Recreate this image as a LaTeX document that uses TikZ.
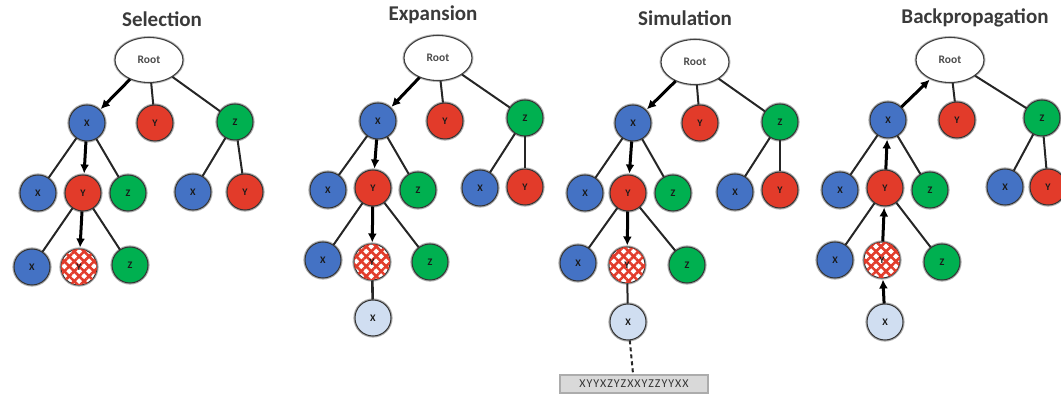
\documentclass[tikz,border=0pt]{standalone}
\usepackage{fontspec}
\setmainfont{Carlito}
\usetikzlibrary{arrows.meta,patterns.meta,shapes.geometric}

\definecolor{nblue}{HTML}{4472C4}
\definecolor{nred}{HTML}{E23B2A}
\definecolor{ngreen}{HTML}{00B050}
\definecolor{nlight}{HTML}{D0DEF1}
\definecolor{ttl}{HTML}{3A3A3A}

\tikzset{
  state/.style={circle, minimum size=36pt, inner sep=0pt,
    draw=black!80, line width=1pt,
    preaction={draw=gray!65, line width=3.2pt},
    font=\fontsize{10}{11}\selectfont\bfseries, text=black!90},
  bnode/.style={state, fill=nblue},
  rnode/.style={state, fill=nred},
  gnode/.style={state, fill=ngreen},
  lnode/.style={state, fill=nlight},
  hnode/.style={state, fill=white,
    postaction={pattern={Lines[angle=45,distance=7pt,line width=2.6pt]}, pattern color=nred},
    postaction={pattern={Lines[angle=-45,distance=7pt,line width=2.6pt]}, pattern color=nred}},
  rootnode/.style={ellipse, minimum width=68pt, minimum height=45pt, inner sep=0pt,
    draw=black!75, line width=1.1pt, preaction={draw=gray!55, line width=3pt},
    fill=white, font=\fontsize{11.5}{12}\selectfont\bfseries, text=black!70},
  title/.style={font=\fontsize{21}{24}\selectfont\bfseries, text=ttl},
  edge/.style={draw=black!85, line width=2pt},
  walk/.style={draw=black, line width=3pt,
    -{Latex[length=9pt,width=9pt]}, shorten >=1pt},
  seq/.style={draw=gray!65, line width=2.2pt, fill=gray!30, minimum width=148pt,
    minimum height=18pt, inner sep=0pt,
    font=\fontsize{12}{12}\selectfont\addfontfeature{LetterSpace=8}, text=black!80},
}

\begin{document}
\begin{tikzpicture}[x=1pt,y=-1pt]
\useasboundingbox (0,0) rectangle (1061,395);

% ---------- Selection ----------
\node[title] (ta) at (162,19) {Selection};
\node[rootnode] (ar) at (149,60) {Root};
\node[bnode] (ax1) at (87,123) {X};
\node[rnode] (ay1) at (155,123) {Y};
\node[gnode] (az1) at (235,122) {Z};
\node[bnode] (ax2) at (38,193) {X};
\node[rnode] (ay2) at (83,193) {Y};
\node[gnode] (az2) at (128,193) {Z};
\node[bnode] (azx) at (193,192) {X};
\node[rnode] (azy) at (245,192) {Y};
\node[bnode] (ax3) at (32,267) {X};
\node[hnode] (ah) at (79,267) {Y};
\node[gnode] (az3) at (130,265) {Z};
\draw[walk] (ar) -- (ax1);
\draw[edge] (ar) -- (ay1);
\draw[edge] (ar) -- (az1);
\draw[edge] (ax1) -- (ax2);
\draw[walk] (ax1) -- (ay2);
\draw[edge] (ax1) -- (az2);
\draw[edge] (az1) -- (azx);
\draw[edge] (az1) -- (azy);
\draw[edge] (ay2) -- (ax3);
\draw[walk] (ay2) -- (ah);
\draw[edge] (ay2) -- (az3);

% ---------- Expansion ----------
\node[title] (tb) at (433,15) {Expansion};
\node[rootnode] (br) at (438,58) {Root};
\node[bnode] (bx1) at (378,121) {X};
\node[rnode] (by1) at (445,121) {Y};
\node[gnode] (bz1) at (525,118) {Z};
\node[bnode] (bx2) at (328,190) {X};
\node[rnode] (by2) at (373,188) {Y};
\node[gnode] (bz2) at (418,190) {Z};
\node[bnode] (bzx) at (480,188) {X};
\node[rnode] (bzy) at (525,187) {Y};
\node[bnode] (bx3) at (323,260) {X};
\node[hnode] (bh) at (372,262) {Y};
\node[gnode] (bz3) at (430,262) {Z};
\node[lnode] (bl) at (373,318) {X};
\draw[walk] (br) -- (bx1);
\draw[edge] (br) -- (by1);
\draw[edge] (br) -- (bz1);
\draw[edge] (bx1) -- (bx2);
\draw[walk] (bx1) -- (by2);
\draw[edge] (bx1) -- (bz2);
\draw[edge] (bz1) -- (bzx);
\draw[edge] (bz1) -- (bzy);
\draw[edge] (by2) -- (bx3);
\draw[walk] (by2) -- (bh);
\draw[edge] (by2) -- (bz3);
\draw[edge, line width=2.6pt] (bh) -- (bl);

% ---------- Simulation ----------
\node[title] (tc) at (685,18) {Simulation};
\node[rootnode] (cr) at (695,62) {Root};
\node[bnode] (cx1) at (633,123) {X};
\node[rnode] (cy1) at (700,123) {Y};
\node[gnode] (cz1) at (780,122) {Z};
\node[bnode] (cx2) at (585,193) {X};
\node[rnode] (cy2) at (628,193) {Y};
\node[gnode] (cz2) at (673,193) {Z};
\node[bnode] (czx) at (735,192) {X};
\node[rnode] (czy) at (780,190) {Y};
\node[bnode] (cx3) at (578,263) {X};
\node[hnode] (ch) at (627,265) {Y};
\node[gnode] (cz3) at (687,265) {Z};
\node[lnode] (cl) at (628,322) {X};
\node[seq] (cs) at (634,384) {XYYXZYZXXYZZYYXX};
\draw[walk] (cr) -- (cx1);
\draw[edge] (cr) -- (cy1);
\draw[edge] (cr) -- (cz1);
\draw[edge] (cx1) -- (cx2);
\draw[walk] (cx1) -- (cy2);
\draw[edge] (cx1) -- (cz2);
\draw[edge] (cz1) -- (czx);
\draw[edge] (cz1) -- (czy);
\draw[edge] (cy2) -- (cx3);
\draw[walk] (cy2) -- (ch);
\draw[edge] (cy2) -- (cz3);
\draw[edge] (ch) -- (cl);
\draw[edge, dashed, dash pattern=on 4pt off 3pt] (cl) -- (cs);

% ---------- Backpropagation ----------
\node[title] (td) at (975,18) {Backpropagation};
\node[rootnode] (dr) at (950,60) {Root};
\node[bnode] (dx1) at (888,120) {X};
\node[rnode] (dy1) at (957,120) {Y};
\node[gnode] (dz1) at (1042,118) {Z};
\node[bnode] (dx2) at (840,190) {X};
\node[rnode] (dy2) at (885,188) {Y};
\node[gnode] (dz2) at (930,190) {Z};
\node[bnode] (dzx) at (1005,187) {X};
\node[rnode] (dzy) at (1048,187) {Y};
\node[bnode] (dx3) at (835,260) {X};
\node[hnode] (dh) at (882,260) {Y};
\node[gnode] (dz3) at (942,262) {Z};
\node[lnode] (dl) at (885,322) {X};
\draw[walk] (dx1) -- (dr);
\draw[edge] (dr) -- (dy1);
\draw[edge] (dr) -- (dz1);
\draw[edge] (dx1) -- (dx2);
\draw[walk] (dy2) -- (dx1);
\draw[edge] (dx1) -- (dz2);
\draw[edge] (dz1) -- (dzx);
\draw[edge] (dz1) -- (dzy);
\draw[edge] (dy2) -- (dx3);
\draw[walk] (dh) -- (dy2);
\draw[edge] (dy2) -- (dz3);
\draw[walk] (dl) -- (dh);
\end{tikzpicture}
\end{document}
